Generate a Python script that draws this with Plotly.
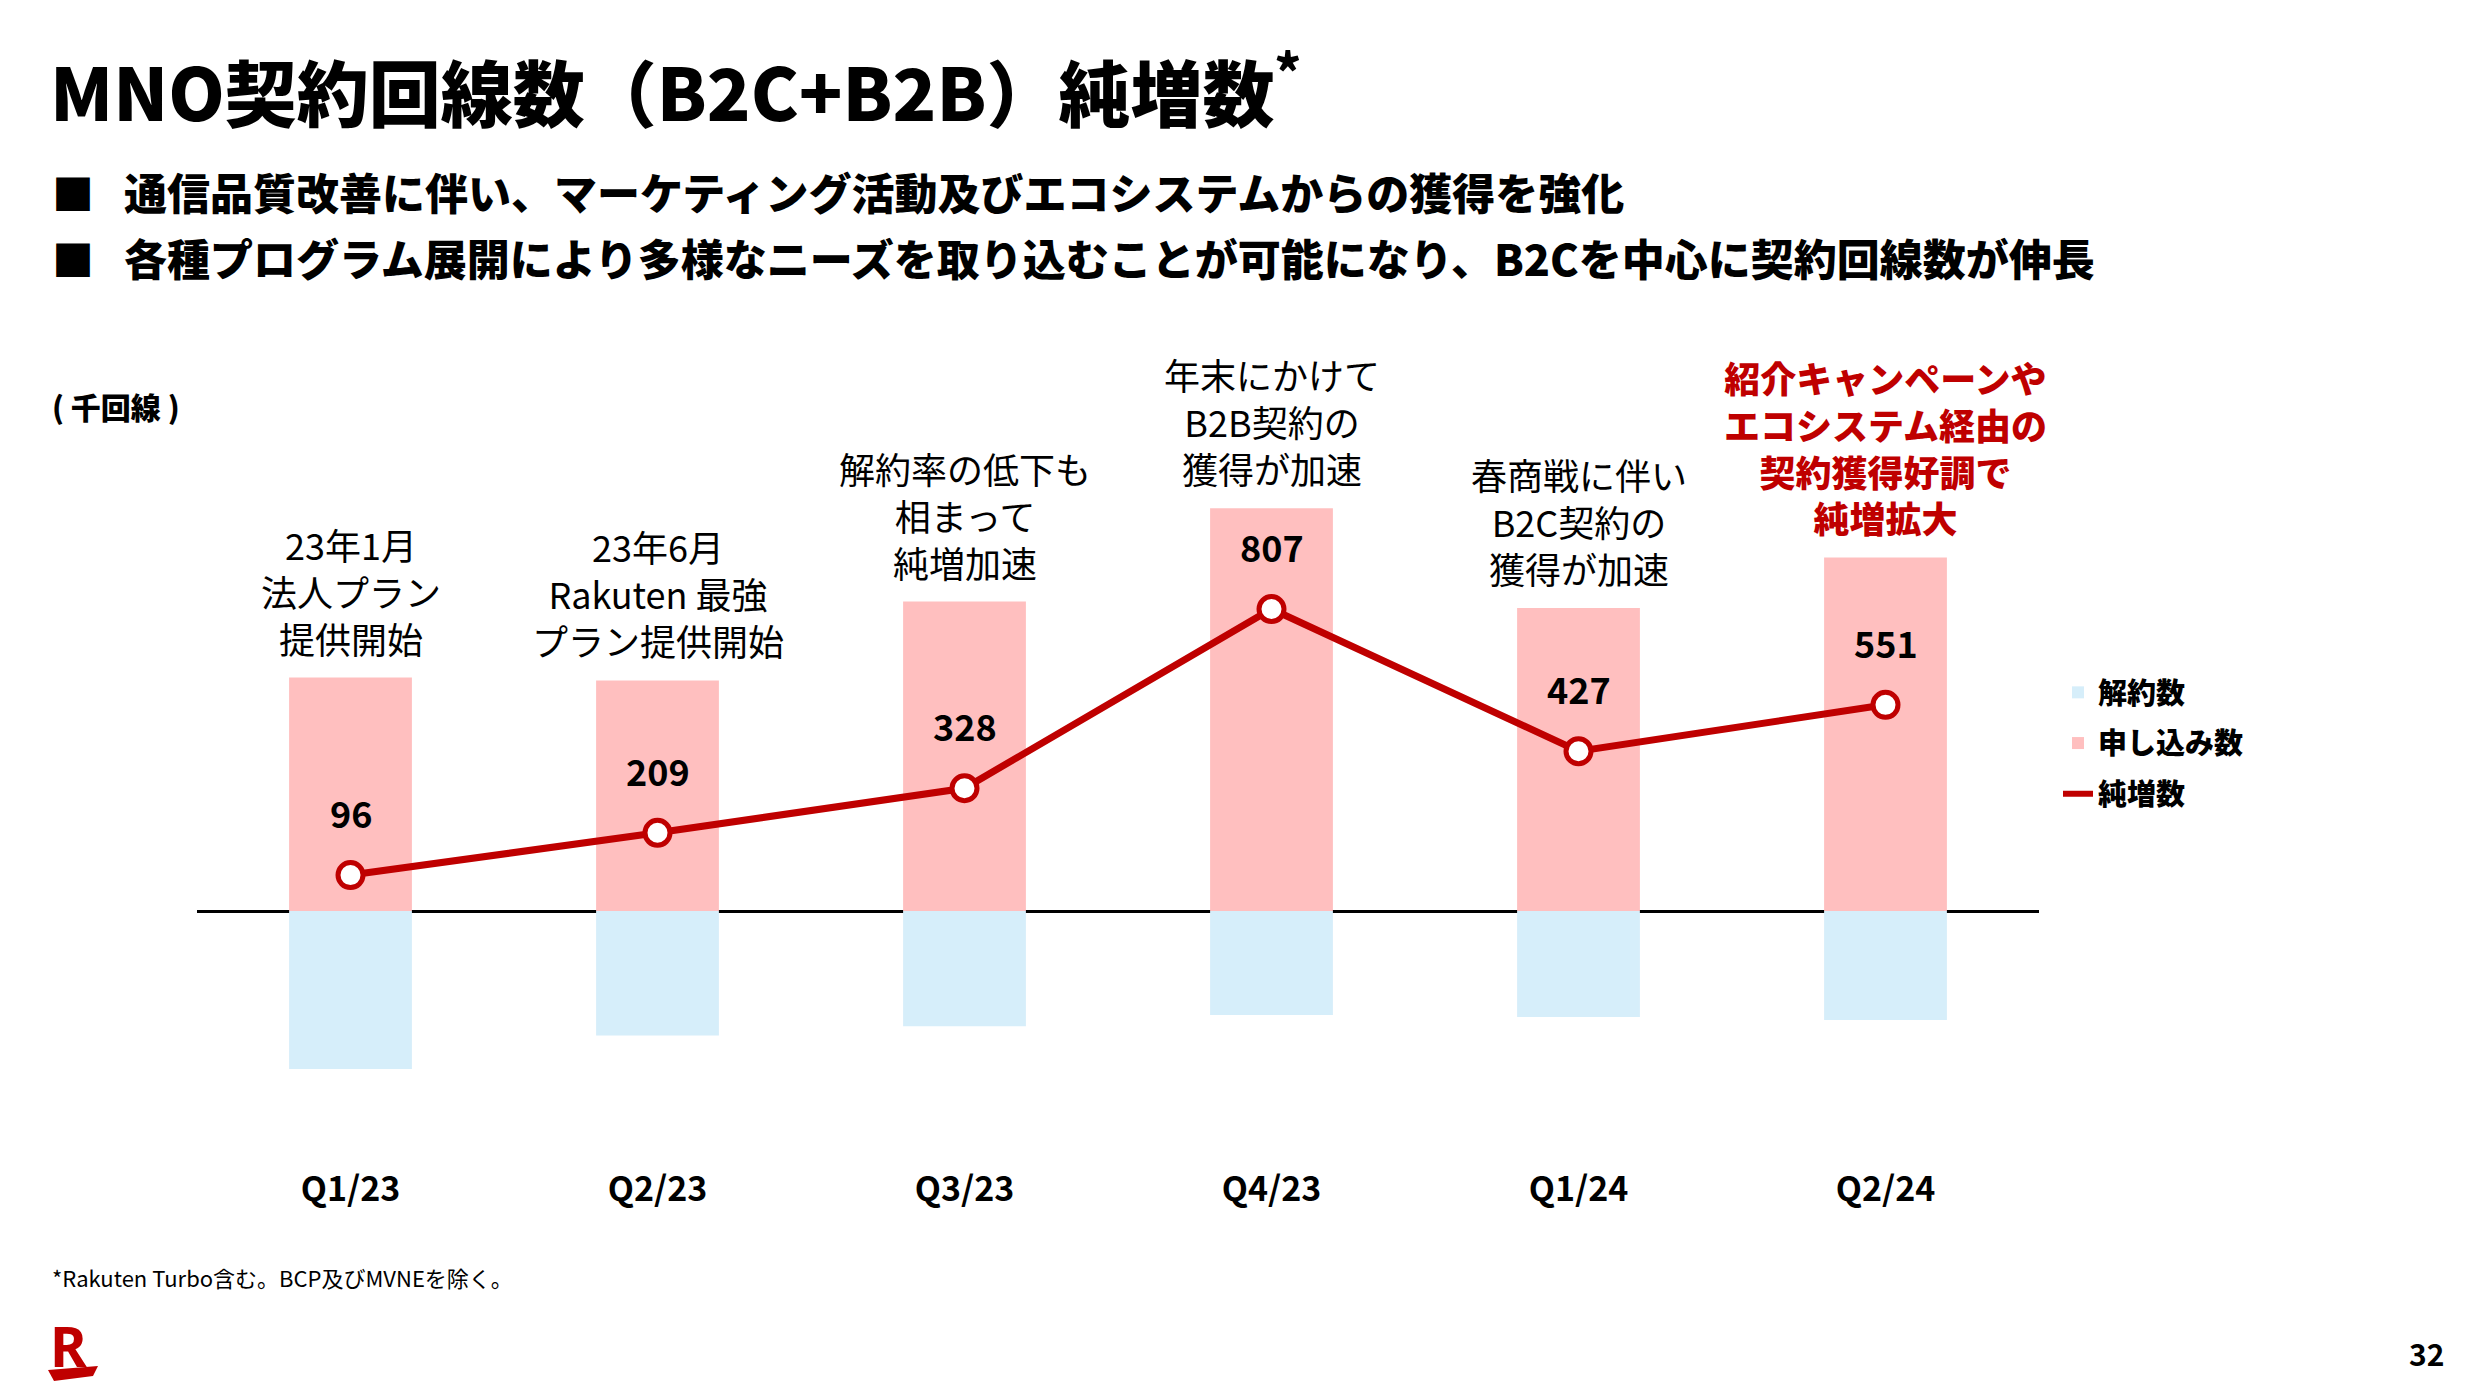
import plotly.graph_objects as go

# ---------------- data ----------------
quarters = ["Q1/23", "Q2/23", "Q3/23", "Q4/23", "Q1/24", "Q2/24"]
net_adds = [96, 209, 328, 807, 427, 551]            # 純増数 (千回線)
applications = [624, 616, 827, 1076, 810, 945]       # 申し込み数
cancellations = [-422, -333, -308, -278, -283, -291] # 解約数
notes = [
    "23年1月<br>法人プラン<br>提供開始",
    "23年6月<br>Rakuten 最強<br>プラン提供開始",
    "解約率の低下も<br>相まって<br>純増加速",
    "年末にかけて<br>B2B契約の<br>獲得が加速",
    "春商戦に伴い<br>B2C契約の<br>獲得が加速",
    "紹介キャンペーンや<br>エコシステム経由の<br>契約獲得好調で<br>純増拡大",
]
highlight = [False, False, False, False, False, True]

title_text = "MNO契約回線数（B2C+B2B）純増数<sup>*</sup>"
bullets = [
    "通信品質改善に伴い、マーケティング活動及びエコシステムからの獲得を強化",
    "各種プログラム展開により多様なニーズを取り込むことが可能になり、B2Cを中心に契約回線数が伸長",
]
unit_label = "( 千回線 )"
footnote = "*Rakuten Turbo含む。BCP及びMVNEを除く。"
page_no = "32"

# ---------------- style ----------------
W, H = 2476, 1400
RED = "#BF0000"
PINK = "#FFBFBF"
BLUE = "#D6EEFA"
FONT = "Noto Sans CJK JP"

def px(x):
    return x / W

def py(y):
    return 1 - y / H

# plot area geometry (pixels)
x_left, x_right = 197, 2039
y_top, y_bottom, y_zero = 300, 1160, 911
unit_px = 0.3742  # pixels per thousand lines
y_max = (y_zero - y_top) / unit_px
y_min = -(y_bottom - y_zero) / unit_px

fig = go.Figure()
fig.add_trace(go.Bar(
    x=quarters, y=cancellations, name="解約数", legendgroup="a",
    marker=dict(color=BLUE, line=dict(width=0)), width=0.4,
))
fig.add_trace(go.Bar(
    x=quarters, y=applications, name="申し込み数", legendgroup="b",
    marker=dict(color=PINK, line=dict(width=0)), width=0.4,
))
fig.add_trace(go.Scatter(
    x=quarters, y=net_adds, name="純増数", mode="lines+markers",
    showlegend=False,
    line=dict(color=RED, width=7),
    marker=dict(size=25, color="white", line=dict(color=RED, width=5)),
))
# legend entry for the line (line only, as in the reference legend)
fig.add_trace(go.Scatter(
    x=[None], y=[None], name="純増数", mode="lines", legendgroup="c",
    line=dict(color=RED, width=6),
))

annotations = []
# value labels above line points
for q, v in zip(quarters, net_adds):
    annotations.append(dict(
        x=q, y=v, xref="x", yref="y", text=str(v), showarrow=False,
        yanchor="middle", yshift=63,
        font=dict(family=FONT, size=36, color="black", weight=700),
    ))
# commentary above bars
for q, top, t, hl in zip(quarters, applications, notes, highlight):
    annotations.append(dict(
        x=q, y=top, xref="x", yref="y", text=t, showarrow=False,
        yanchor="bottom", yshift=12, align="center",
        font=dict(family=FONT, size=36, color=RED if hl else "black",
                  weight=900 if hl else 400),
    ))
# title
annotations.append(dict(
    x=px(48), y=py(88), xref="paper", yref="paper", text=title_text,
    showarrow=False, xanchor="left", yanchor="middle",
    font=dict(family=FONT, size=72, color="black", weight=900),
))
# bullets
for i, b in enumerate(bullets):
    yy = 191 + i * 66
    annotations.append(dict(
        x=px(50), y=py(yy), xref="paper", yref="paper", text="■",
        showarrow=False, xanchor="left", yanchor="middle",
        font=dict(family=FONT, size=42, color="black", weight=900),
    ))
    annotations.append(dict(
        x=px(122), y=py(yy), xref="paper", yref="paper", text=b,
        showarrow=False, xanchor="left", yanchor="middle",
        font=dict(family=FONT, size=43, color="black", weight=900),
    ))
# unit
annotations.append(dict(
    x=px(50), y=py(406), xref="paper", yref="paper", text=unit_label,
    showarrow=False, xanchor="left", yanchor="middle",
    font=dict(family=FONT, size=30, color="black", weight=900),
))
# footnote
annotations.append(dict(
    x=px(50), y=py(1277), xref="paper", yref="paper", text=footnote,
    showarrow=False, xanchor="left", yanchor="middle",
    font=dict(family=FONT, size=22, color="black", weight=400),
))
# page number
annotations.append(dict(
    x=px(2446), y=py(1353), xref="paper", yref="paper", text=page_no,
    showarrow=False, xanchor="right", yanchor="middle",
    font=dict(family=FONT, size=30, color="black", weight=700),
))
# logo R
annotations.append(dict(
    x=px(48), y=py(1345), xref="paper", yref="paper", text="R",
    showarrow=False, xanchor="left", yanchor="middle",
    font=dict(family="Noto Sans", size=56, color=RED, weight=700),
))

shapes = [dict(
    type="path", xref="paper", yref="paper",
    path=(f"M {px(48)},{py(1370)} L {px(98)},{py(1366)} "
          f"L {px(93)},{py(1376)} L {px(54)},{py(1381)} Z"),
    fillcolor=RED, line=dict(width=0),
)]

fig.update_layout(
    width=W, height=H,
    margin=dict(l=0, r=0, t=0, b=0),
    paper_bgcolor="white", plot_bgcolor="white",
    barmode="relative",
    showlegend=True,
    legend=dict(
        x=px(2058), y=py(667), xanchor="left", yanchor="top",
        font=dict(family=FONT, size=29, color="black", weight=900),
        bgcolor="rgba(0,0,0,0)", traceorder="grouped", tracegroupgap=10,
        itemwidth=30,
    ),
    xaxis=dict(
        domain=[px(x_left), px(x_right)], range=[-0.5, 5.5],
        showgrid=False, zeroline=False, showline=False, ticks="",
        tickfont=dict(family=FONT, size=34, color="black", weight=700),
        ticklabelstandoff=6,
    ),
    yaxis=dict(
        domain=[py(y_bottom), py(y_top)], range=[y_min, y_max],
        showgrid=False, showticklabels=False, ticks="",
        zeroline=True, zerolinecolor="black", zerolinewidth=3,
    ),
    annotations=annotations,
    shapes=shapes,
)

fig.write_html("out.html", config={"displayModeBar": False},
               post_script="document.body.style.margin='0';")
